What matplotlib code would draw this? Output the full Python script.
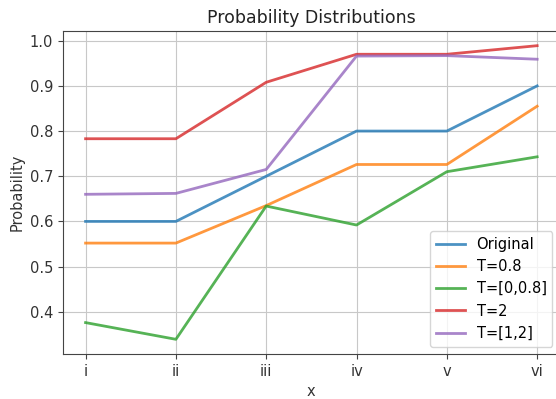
import matplotlib
matplotlib.use("Agg")
import matplotlib.pyplot as plt

x_labels = ["i", "ii", "iii", "iv", "v", "vi"]

original = [0.600, 0.600, 0.700, 0.800, 0.800, 0.900]
t_08 = [0.552, 0.552, 0.635, 0.726, 0.726, 0.855]
t_0_08 = [0.376, 0.339, 0.634, 0.592, 0.710, 0.743]
t_2 = [0.783, 0.783, 0.908, 0.970, 0.970, 0.989]
t_1_2 = [0.660, 0.662, 0.715, 0.966, 0.967, 0.959]

series = [
    ("Original", original),
    ("T=0.8", t_08),
    ("T=[0,0.8]", t_0_08),
    ("T=2", t_2),
    ("T=[1,2]", t_1_2),
]

fig, ax = plt.subplots(figsize=(5.56, 3.99), dpi=100)
# the reference is clipped a little on the right side
fig.subplots_adjust(left=0.1133, right=1.0067, top=0.9223, bottom=0.1128)

for name, vals in series:
    ax.plot(x_labels, vals, label=name, linewidth=2, alpha=0.8)

ax.set_title("Probability Distributions", fontsize=12.5, color="#222222")
ax.set_xlabel("x", fontsize=10.5, color="#333333")
ax.set_ylabel("Probability", fontsize=10.5, color="#333333")
ax.grid(True, color="#c8c8c8")
ax.tick_params(colors="#444444", labelcolor="#333333", labelsize=10.5)
for s in ax.spines.values():
    s.set_color("#444444")
ax.legend(loc="lower right", fontsize=10.5)

fig.savefig("out.png")
